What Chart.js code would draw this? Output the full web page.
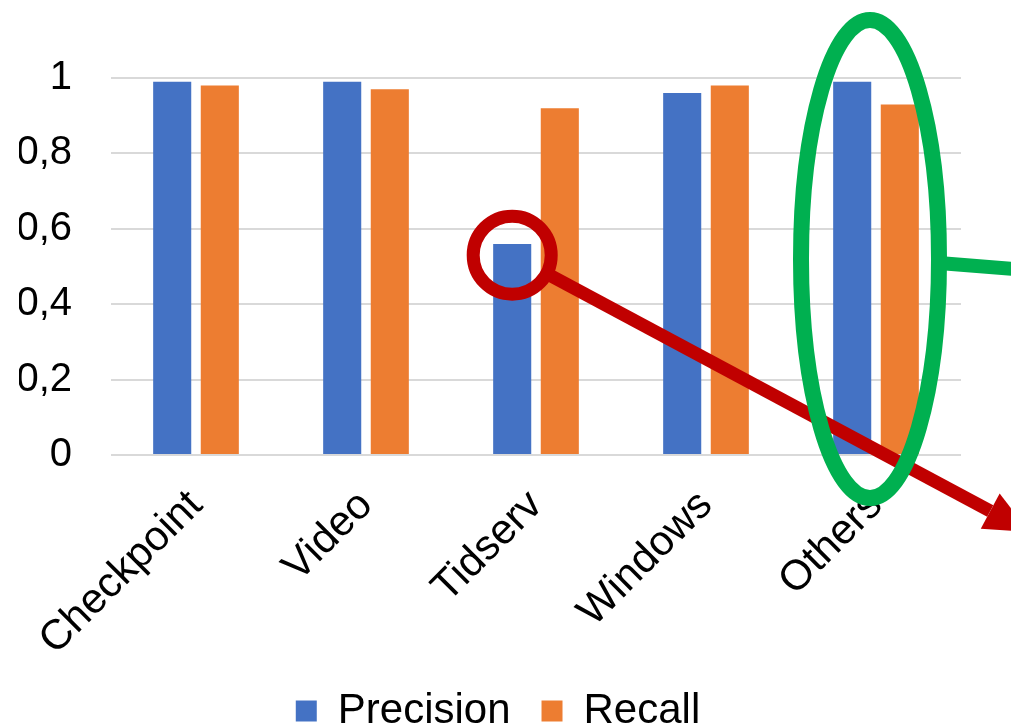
<!DOCTYPE html>
<html>
<head>
<meta charset="utf-8">
<script src="https://cdn.jsdelivr.net/npm/chart.js@4/dist/chart.umd.min.js"></script>
<style>
  html, body { margin: 0; padding: 0; background: #fff; }
  #wrap { width: 1011px; height: 728px; }
</style>
</head>
<body>
<div id="wrap"><canvas id="prChart" width="1011" height="728"></canvas></div>
<script>
// --- data ---
const categories = ['Checkpoint', 'Video', 'Tidserv', 'Windows', 'Others'];
const precision = [0.99, 0.99, 0.56, 0.96, 0.99];
const recall = [0.98, 0.97, 0.92, 0.98, 0.93];
const yTicks = [0, 0.2, 0.4, 0.6, 0.8, 1];

const FONT = '"Liberation Sans", Arial, sans-serif';

// highlight marks drawn on top of the chart (red magnifier + green oval)
const highlights = {
  id: 'highlights',
  afterLayout(chart) {
    // centre the legend on the whole canvas rather than the padded box
    chart.legend.left += 8;
    chart.legend.right += 8;
  },
  afterDraw(chart) {
    const ctx = chart.ctx;
    const x = chart.scales.x, y = chart.scales.y;
    ctx.save();
    ctx.lineCap = 'butt';

    // red loupe on the Tidserv precision bar
    const cx = chart.getDatasetMeta(0).data[2].x;
    const cy = y.getPixelForValue(0.53);
    const r = 39;
    const ang = Math.atan2(265, 495);
    const tipX = chart.width + 18, tipY = cy + Math.tan(ang) * (tipX - cx);
    const head = 44;
    const baseX = tipX - head * Math.cos(ang), baseY = tipY - head * Math.sin(ang);
    ctx.strokeStyle = '#C00000';
    ctx.fillStyle = '#C00000';
    ctx.lineWidth = 13;
    ctx.beginPath();
    ctx.moveTo(cx + r * Math.cos(ang), cy + r * Math.sin(ang));
    ctx.lineTo(baseX, baseY);
    ctx.stroke();
    ctx.beginPath();
    ctx.moveTo(tipX, tipY);
    ctx.lineTo(baseX + 20 * Math.sin(ang), baseY - 20 * Math.cos(ang));
    ctx.lineTo(baseX - 20 * Math.sin(ang), baseY + 20 * Math.cos(ang));
    ctx.closePath();
    ctx.fill();
    ctx.beginPath();
    ctx.arc(cx, cy, r, 0, Math.PI * 2);
    ctx.stroke();

    // green oval around "Others"
    const ox = x.getPixelForValue(4) - 6;
    const oy = y.getPixelForValue(0.52);
    const rx = 69, ry = 239;
    ctx.strokeStyle = '#00B050';
    ctx.lineWidth = 16;
    ctx.beginPath();
    ctx.ellipse(ox, oy, rx, ry, 0, 0, Math.PI * 2);
    ctx.stroke();
    ctx.lineWidth = 14;
    ctx.beginPath();
    ctx.moveTo(ox + rx, oy + 4);
    ctx.lineTo(chart.width + 2, oy + 10);
    ctx.stroke();
    ctx.restore();
  }
};

new Chart(document.getElementById('prChart'), {
  type: 'bar',
  data: {
    labels: categories,
    datasets: [
      { label: 'Precision', data: precision, backgroundColor: '#4472C4' },
      { label: 'Recall', data: recall, backgroundColor: '#ED7D31' }
    ]
  },
  options: {
    responsive: false,
    animation: false,
    categoryPercentage: 0.56,
    barPercentage: 0.8,
    layout: { padding: { left: 19, right: 50, top: 78, bottom: -14 } },
    plugins: {
      tooltip: { enabled: false },
      legend: {
        position: 'bottom',
        labels: {
          color: '#000',
          font: { family: FONT, size: 42 },
          boxWidth: 21,
          boxHeight: 21,
          padding: 31
        }
      }
    },
    scales: {
      x: {
        grid: { display: false },
        border: { display: false },
        // rotated labels may run under the y axis labels
        afterFit(axis) {
          axis.paddingLeft = 0;
          axis.paddingRight = 0;
          axis.height = 204;
        },
        ticks: {
          color: '#000',
          font: { family: FONT, size: 42 },
          minRotation: 45,
          maxRotation: 45,
          padding: 18
        }
      },
      y: {
        min: 0,
        max: 1,
        afterBuildTicks(axis) { axis.ticks = yTicks.map(v => ({ value: v })); },
        afterFit(axis) { axis.width = 92; },
        grid: { color: '#D9D9D9', lineWidth: 2, drawTicks: false },
        border: { display: false },
        ticks: {
          color: '#000',
          font: { family: FONT, size: 40 },
          padding: 39,
          callback: v => String(v).replace('.', ',')
        }
      }
    }
  },
  plugins: [highlights]
});
</script>
</body>
</html>
